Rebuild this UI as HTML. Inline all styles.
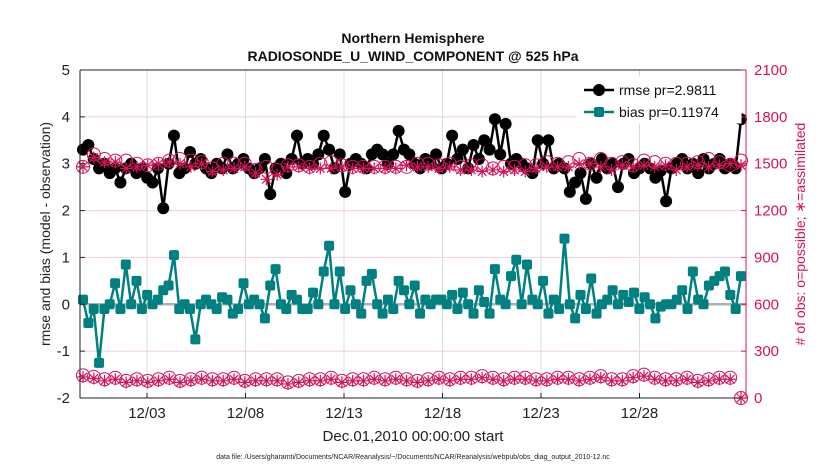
<!DOCTYPE html>
<html><head><meta charset="utf-8"><style>
body{margin:0;background:#fff;font-family:"Liberation Sans",sans-serif}
svg text{font-family:"Liberation Sans",sans-serif}
</style></head><body>
<svg id="c" width="830" height="470"></svg>
<script>
const rmse=[3.3,3.4,3.1,2.9,3.0,2.8,2.9,2.6,2.9,3.0, 2.8,2.9,2.7,2.6,2.9,2.05,3.0,3.6,2.8,2.9, 3.25,3.0,3.1,2.9,2.8,3.0,2.9,3.2,2.9,3.0, 3.1,2.9,2.8,2.9,3.1,2.35,2.9,3.0,2.8,3.1, 3.6,3.0,3.1,3.0,3.2,3.6,3.3,2.9,3.2,2.4, 3.0,3.1,3.0,2.9,3.2,3.3,3.2,3.0,3.2,3.7, 3.3,3.2,3.0,2.9,3.1,3.0,3.2,2.9,3.0,3.6, 3.1,3.3,2.9,3.4,3.1,3.5,3.3,3.95,3.2,3.85, 3.0,3.1,3.0,2.9,2.8,3.5,3.0,3.5,2.9,3.0, 2.9,2.4,2.6,2.8,2.25,3.0,2.7,3.1,2.9,3.0, 2.5,3.0,3.1,2.8,2.9,3.0,2.9,2.7,2.85,2.2, 2.9,3.0,3.1,2.9,3.0,2.8,3.1,2.9,3.0,3.1,2.9,3.0,2.9,3.95];
const bias=[0.1,-0.4,-0.1,-1.25,-0.1,0.0,0.45,-0.1,0.85,0.0, 0.5,-0.1,0.2,0.0,0.1,0.3,0.4,1.05,-0.1,0.0, -0.1,-0.75,0.0,0.1,0.0,-0.1,0.15,0.1,-0.2,-0.1, 0.45,0.0,0.1,0.0,-0.3,0.4,0.75,0.0,-0.1,0.2, 0.1,-0.1,-0.1,0.25,0.0,0.7,1.25,0.0,0.7,-0.1, 0.3,0.0,-0.2,0.5,0.65,0.0,-0.2,0.1,-0.1,0.5, 0.3,0.0,0.4,-0.2,0.1,0.0,0.1,0.1,0.0,0.2, -0.1,0.25,0.0,-0.2,0.3,0.05,-0.2,0.75,0.1,0.0, 0.6,0.95,0.0,0.85,0.1,0.0,0.5,-0.2,0.1,-0.1, 1.4,0.0,-0.3,0.2,-0.1,0.55,-0.2,0.0,0.1,0.3, 0.0,0.2,0.05,0.25,-0.1,0.15,0.0,-0.3,-0.05,0.0, 0.0,0.1,0.3,-0.1,0.7,0.1,0.0,0.4,0.5,0.6,0.7,0.2,-0.1,0.6];
const possTop=[1480,1560,1530,1520,1520,1500,1490,1500,1520,1530,1520,1510,1470,1500,1500,1500,1460,1480,1460,1490,1490,1480,1500,1510,1490,1480,1480,1480,1480,1480,1480,1500,1500,1490,1500,1480,1490,1490,1470,1480,1480,1490,1490,1510,1500,1510,1530,1500,1530,1500,1510,1490,1520,1510,1500,1500,1500,1510,1530,1510,1490,1520];
const assimTop=[1480,1540,1510,1510,1470,1480,1490,1500,1510,1500,1480,1500,1450,1460,1470,1480,1440,1400,1430,1480,1480,1470,1470,1470,1480,1470,1470,1470,1470,1470,1490,1480,1480,1470,1480,1460,1460,1450,1460,1450,1460,1450,1470,1480,1480,1480,1500,1500,1480,1460,1490,1480,1490,1480,1490,1460,1480,1490,1480,1490,1500,1490];
const possLow=[145,135,120,130,110,120,110,120,130,110,120,130,120,120,130,110,120,120,120,100,110,120,120,130,110,120,120,130,120,130,120,110,120,130,120,130,130,140,130,120,130,130,120,120,130,130,120,130,140,120,120,140,150,130,120,120,130,110,120,130,130,0];
const assimLow=[135,125,110,120,100,110,100,110,120,100,110,120,110,110,120,100,110,110,110,90,100,110,110,120,100,110,110,120,110,120,110,100,110,120,110,120,120,130,120,110,120,120,110,110,120,120,110,120,130,110,110,130,140,120,110,110,120,100,110,120,120,0];
const yTicks=[-2,-1,0,1,2,3,4,5];
const rTicks=[0,300,600,900,1200,1500,1800,2100];
const dateLabels=["12/03","12/08","12/13","12/18","12/23","12/28"];
const dateDays=[2,7,12,17,22,27];

const NS="http://www.w3.org/2000/svg",svg=document.getElementById('c');
const L=80,R=746,T=70,B=398;
const y=v=>B-(v+2)/7*(B-T);
const yr=v=>B-v/2100*(B-T);
const xd=d=>107.6+19.7*d;
const xi=(i,n)=>83+i*(741-83)/(n-1);
function el(t,a,p){const e=document.createElementNS(NS,t);for(const k in a)e.setAttribute(k,a[k]);(p||svg).appendChild(e);return e;}
function tx(s,a){const e=el('text',a);e.textContent=s;return e;}
const pink="#d4145a",teal="#008080";
const g=el('g',{});
yTicks.forEach(v=>{if(v>-2&&v<5)el('line',{x1:L,x2:R,y1:y(v),y2:y(v),stroke:'#f2cfdc','stroke-width':1},g);});
dateDays.forEach(d=>el('line',{x1:xd(d),x2:xd(d),y1:T,y2:B,stroke:'#dcdcdc','stroke-width':1},g));
el('line',{x1:L,x2:R,y1:y(0),y2:y(0),stroke:'#b0b0b0','stroke-width':2.5},g);
function series(vals,sc,n,color,name,marker){
  const gg=el('g',{});
  if(marker!=='circle-open'&&marker!=='star'){
    el('polyline',{points:vals.map((v,i)=>xi(i,n)+','+sc(v)).join(' '),fill:'none',stroke:color,'stroke-width':2.5},gg);
  }
  vals.forEach((v,i)=>{const cx=xi(i,n),cy=sc(v);
    if(marker==='dot')el('circle',{cx,cy,r:6,fill:color},gg);
    else if(marker==='sq')el('rect',{x:cx-5,y:cy-5,width:10,height:10,rx:2,fill:color},gg);
    else if(marker==='circle-open')el('circle',{cx,cy,r:6.5,fill:'none',stroke:color,'stroke-width':1},gg);
    else{let d='';for(let k=0;k<4;k++){const a=k*Math.PI/4;d+=`M${cx-6*Math.cos(a)},${cy-6*Math.sin(a)}L${cx+6*Math.cos(a)},${cy+6*Math.sin(a)}`;}el('path',{d,stroke:color,'stroke-width':1.2},gg);}
  });
}
series(possLow,yr,possLow.length,pink,'possible-obs-low','circle-open');
series(assimLow,yr,assimLow.length,pink,'assimilated-obs-low','star');
series(rmse,y,rmse.length,'#000','rmse-series','dot');
series(possTop,yr,possTop.length,pink,'possible-obs-count','circle-open');
series(assimTop,yr,assimTop.length,pink,'assimilated-obs-count','star');
series(bias,y,bias.length,teal,'bias-series','sq');
el('line',{x1:L,x2:L,y1:T,y2:B,stroke:'#222'});
el('line',{x1:R,x2:R,y1:T,y2:B,stroke:pink});
el('line',{x1:L,x2:R,y1:B,y2:B,stroke:'#222'});
el('line',{x1:L,x2:R,y1:T,y2:T,stroke:'#222'});
yTicks.forEach(v=>{el('line',{x1:L,x2:L+5,y1:y(v),y2:y(v),stroke:'#222'});
  const t=tx(String(v),{x:L-10,y:y(v)+5,'text-anchor':'end','font-size':15,fill:'#222'});});
rTicks.forEach(v=>{el('line',{x1:R-5,x2:R,y1:yr(v),y2:yr(v),stroke:pink});
  const t=tx(String(v),{x:R+8,y:yr(v)+5,'font-size':15,fill:pink});});
dateLabels.forEach((s,i)=>{el('line',{x1:xd(dateDays[i]),x2:xd(dateDays[i]),y1:B,y2:B-5,stroke:'#222'});
  const t=tx(s,{x:xd(dateDays[i]),y:418,'text-anchor':'middle','font-size':15,fill:'#222'});});
let t;
t=tx('Northern Hemisphere',{x:413,y:43,'text-anchor':'middle','font-size':14,'font-weight':'bold',fill:'#111'});
t=tx('RADIOSONDE_U_WIND_COMPONENT @ 525 hPa',{x:413,y:61,'text-anchor':'middle','font-size':14,'font-weight':'bold',fill:'#111'});
t=tx('Dec.01,2010 00:00:00 start',{x:413,y:441,'text-anchor':'middle','font-size':15,fill:'#222'});
t=tx('data file: /Users/gharamti/Documents/NCAR/Reanalysis/~/Documents/NCAR/Reanalysis/webpub/obs_diag_output_2010-12.nc',{x:413,y:459,'text-anchor':'middle','font-size':7,fill:'#222'});
t=tx('rmse and bias (model - observation)',{x:0,y:0,'text-anchor':'middle','font-size':14,fill:'#222',transform:'translate(50,234) rotate(-90)'});
t=tx('# of obs: o=possible; \u2217=assimilated',{x:0,y:0,'text-anchor':'middle','font-size':14,fill:pink,transform:'translate(805,234) rotate(-90)'});
const lg=el('g',{});
el('rect',{x:577,y:77,width:164,height:46,fill:'#fff',stroke:'#fff'},lg);
el('line',{x1:584,x2:614,y1:90,y2:90,stroke:'#000','stroke-width':2.5},lg);el('circle',{cx:599,cy:90,r:6,fill:'#000'},lg);
t=tx('rmse pr=2.9811',{x:619,y:95,'font-size':14,fill:'#111'},lg);lg.appendChild(t);
el('line',{x1:584,x2:614,y1:112,y2:112,stroke:teal,'stroke-width':2.5},lg);el('rect',{x:594,y:107,width:10,height:10,rx:2,fill:teal},lg);
t=tx('bias pr=0.11974',{x:619,y:117,'font-size':14,fill:'#111'},lg);lg.appendChild(t);
</script>
</body></html>
